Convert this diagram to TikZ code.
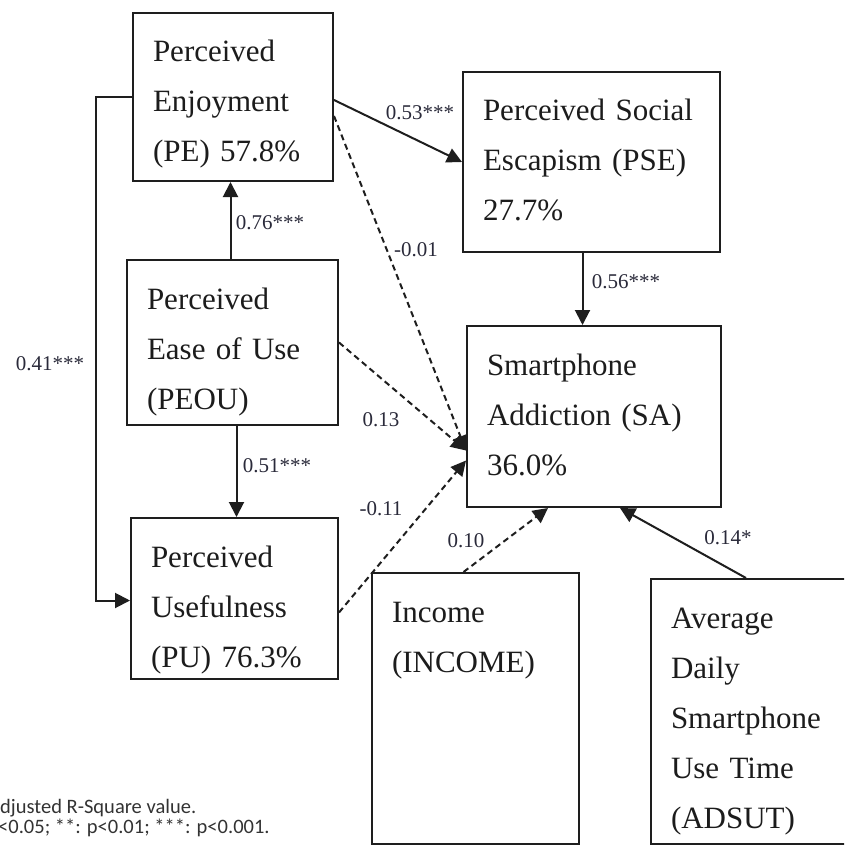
\documentclass[tikz,border=0pt]{standalone}
\usepackage{fontspec}
\setmainfont{Liberation Serif}
\newfontfamily\notefont{Carlito}
\usetikzlibrary{arrows.meta,calc}
\definecolor{cLine}{HTML}{1E1E1E}
\definecolor{cText}{HTML}{1C1C1C}
\definecolor{cCoef}{HTML}{2A2A3A}
\definecolor{cNote}{HTML}{333333}
\tikzset{
  box/.style={draw=cLine, line width=2pt, anchor=north west, align=left,
              inner xsep=20pt, inner ysep=0pt, text height=49pt,
              font=\fontsize{31}{50}\selectfont, text=cText},
  effect/.style={draw=cLine, line width=2pt, -{Triangle[length=15pt,width=15pt]}},
  effectNS/.style={effect, dash pattern=on 6pt off 4pt},
  coef/.style={font=\fontsize{21}{21}\selectfont, text=cCoef, inner sep=0pt},
  note/.style={font=\notefont\fontsize{20.5}{20.5}\selectfont, text=cNote,
               inner sep=0pt, anchor=base west},
}

\begin{document}
\begin{tikzpicture}[x=1pt, y=-1pt]
\clip (0,0) rectangle (844,845);

% ========== CONSTRUCTS ==========
\node[box, text width=160pt, text depth=119pt] (pe) at (132,12)
  {Perceived\\Enjoyment\\(PE) 57.8\%};
\node[box, text width=171pt, text depth=116pt] (peou) at (126,259)
  {Perceived\\Ease of Use\\(PEOU)};
\node[box, text width=167pt, text depth=112pt] (pu) at (130,517)
  {Perceived\\Usefulness\\(PU) 76.3\%};
\node[box, text width=217pt, text depth=131pt] (pse) at (462,71)
  {Perceived Social\\Escapism (PSE)\\27.7\%};
\node[box, text width=214pt, text depth=132pt] (sa) at (466,325)
  {Smartphone\\Addiction (SA)\\36.0\%};
\node[box, text width=167pt, text depth=222pt] (income) at (371,572)
  {Income\\(INCOME)};
\node[box, text width=160pt, text depth=216pt] (adsut) at (650,578)
  {Average\\Daily\\Smartphone\\Use Time\\(ADSUT)};

% ========== PATHS ==========
\draw[effect] ([yshift=-3pt]pe.east) -- (pse.west);
\draw[effectNS] ([yshift=-19pt]pe.east) -- ([yshift=-34pt]sa.west);
\draw[effect] ([xshift=-2pt]peou.north) -- ([xshift=-2pt]peou.north |- pe.south);
\draw[effectNS] (peou.east) -- ([yshift=-34pt]sa.west);
\draw[effect] ([xshift=4pt]peou.south) -- ([xshift=4pt]peou.south |- pu.north);
\draw[effectNS] ([yshift=-14pt]pu.east) -- ([yshift=-44pt]sa.west);
\draw[effect] (pe.west) -- ++(-36pt,0) |- ([yshift=-2pt]pu.west);
\draw[effect] ([xshift=-9pt]pse.south) -- ([xshift=-9pt]pse.south |- sa.north);
\draw[effectNS] ([xshift=-12pt]income.north) -- ([xshift=-46pt]sa.south);
\draw[effect] ([xshift=-5pt]adsut.north) -- ([xshift=26pt]sa.south);

% coefficients
\node[coef] (c53) at (420,113) {0.53***};
\node[coef] (c01) at (416,250) {-0.01};
\node[coef] (c76) at (270,223) {0.76***};
\node[coef] (c13) at (381,420) {0.13};
\node[coef] (c51) at (277,466) {0.51***};
\node[coef] (c11) at (381,509) {-0.11};
\node[coef] (c10) at (466,541) {0.10};
\node[coef] (c14) at (728,538) {0.14*};
\node[coef] (c56) at (626,282) {0.56***};
\node[coef] (c41) at (50,364) {0.41***};

% ========== NOTE ==========
\node[note] (n1) at (0,813) {djusted R-Square value.};
\node[note] (n2) at (-2,833) {<0.05; **: p<0.01; ***: p<0.001.};

\end{tikzpicture}
\end{document}
